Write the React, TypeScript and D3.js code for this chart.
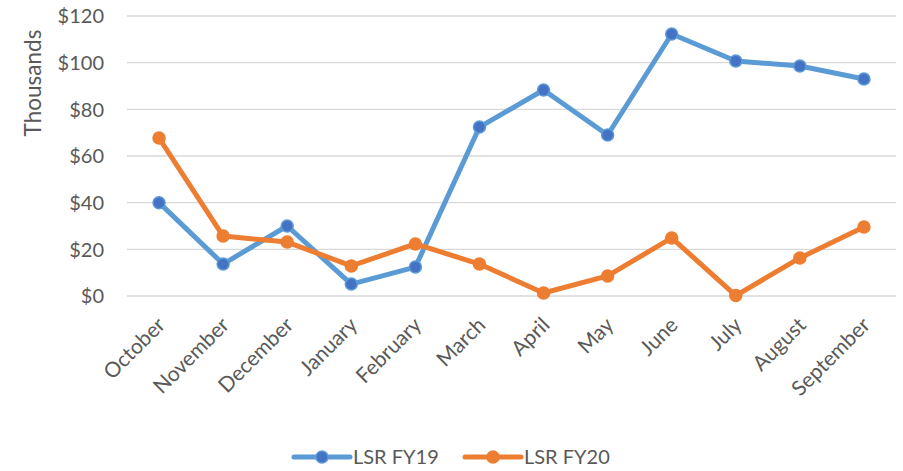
import React, { useEffect, useRef } from 'react';
import * as d3 from 'd3';

const months = ['October', 'November', 'December', 'January', 'February', 'March', 'April', 'May', 'June', 'July', 'August', 'September'];
const fy19 = [40, 13.7, 30, 5.1, 12.4, 72.4, 88.3, 69, 112.3, 100.7, 98.6, 93];
const fy20 = [67.7, 25.7, 23.1, 12.9, 22.3, 13.7, 1.3, 8.6, 24.9, 0.2, 16.3, 29.6];
const yTicks = [0, 20, 40, 60, 80, 100, 120];

const seriesList = [
  { name: 'LSR FY19', values: fy19, line: '#5B9BD5', dot: '#4472C4' },
  { name: 'LSR FY20', values: fy20, line: '#ED7D31', dot: '#ED7D31' },
];

const App: React.FC = () => {
  const ref = useRef<SVGSVGElement>(null);

  useEffect(() => {
    const width = 903;
    const height = 471;
    const left = 127;
    const right = 896;
    const top = 16;
    const bottom = 296;
    const font = "Lato, 'Open Sans', sans-serif";
    const textColor = '#595959';

    const svg = d3.select(ref.current).attr('width', width).attr('height', height);
    svg.selectAll('*').remove();

    const x = d3.scaleBand<string>().domain(months).range([left, right]);
    const y = d3.scaleLinear().domain([0, 120]).range([bottom, top]);
    const cx = (m: string) => (x(m) || 0) + x.bandwidth() / 2;

    // grid
    svg.append('g')
      .selectAll('line')
      .data(yTicks)
      .enter()
      .append('line')
      .attr('x1', left)
      .attr('x2', right)
      .attr('y1', (d) => y(d))
      .attr('y2', (d) => y(d))
      .attr('stroke', '#d9d9d9')
      .attr('stroke-width', 1.3);

    // y labels
    svg.append('g')
      .selectAll('text')
      .data(yTicks)
      .enter()
      .append('text')
      .attr('x', 104)
      .attr('y', (d) => y(d))
      .attr('dy', '0.36em')
      .attr('text-anchor', 'end')
      .style('font-family', font)
      .style('font-size', '20px')
      .attr('fill', textColor)
      .text((d) => `$${d}`);

    svg.append('text')
      .attr('transform', 'translate(41,83) rotate(-90)')
      .attr('text-anchor', 'middle')
      .style('font-family', font)
      .style('font-size', '22.5px')
      .attr('fill', textColor)
      .text('Thousands');

    // x labels
    svg.append('g')
      .selectAll('text')
      .data(months)
      .enter()
      .append('text')
      .attr('transform', (d) => `translate(${cx(d) + 2},${bottom + 25}) rotate(-45)`)
      .attr('text-anchor', 'end')
      .attr('dy', '0.36em')
      .style('font-family', font)
      .style('font-size', '21px')
      .attr('fill', textColor)
      .text((d) => d);

    // lines
    const line = d3.line<number>()
      .x((_, i) => cx(months[i]))
      .y((d) => y(d));

    seriesList.forEach((s) => {
      svg.append('path')
        .datum(s.values)
        .attr('d', line)
        .attr('fill', 'none')
        .attr('stroke', s.line)
        .attr('stroke-width', 5)
        .attr('stroke-linejoin', 'round');

      svg.append('g')
        .selectAll('circle')
        .data(s.values)
        .enter()
        .append('circle')
        .attr('cx', (_, i) => cx(months[i]))
        .attr('cy', (d) => y(d))
        .attr('r', 6)
        .attr('fill', s.dot)
        .attr('stroke', s.line)
        .attr('stroke-width', 1.5);
    });

    // legend
    const legend = svg.append('g');
    seriesList.forEach((s, i) => {
      const lx = 294 + i * 171;
      const ly = 457;
      legend.append('line')
        .attr('x1', lx)
        .attr('x2', lx + 56)
        .attr('y1', ly)
        .attr('y2', ly)
        .attr('stroke', s.line)
        .attr('stroke-width', 5)
        .attr('stroke-linecap', 'round');
      legend.append('circle')
        .attr('cx', lx + 28)
        .attr('cy', ly)
        .attr('r', 6)
        .attr('fill', s.dot)
        .attr('stroke', s.line)
        .attr('stroke-width', 1.5);
      legend.append('text')
        .attr('x', lx + 59)
        .attr('y', ly)
        .attr('dy', '0.36em')
        .style('font-family', font)
        .style('font-size', '20px')
        .attr('fill', textColor)
        .text(s.name);
    });
  }, []);

  return <svg ref={ref} style={{ position: 'absolute', left: 0, top: 0 }}></svg>;
};

export default App;
